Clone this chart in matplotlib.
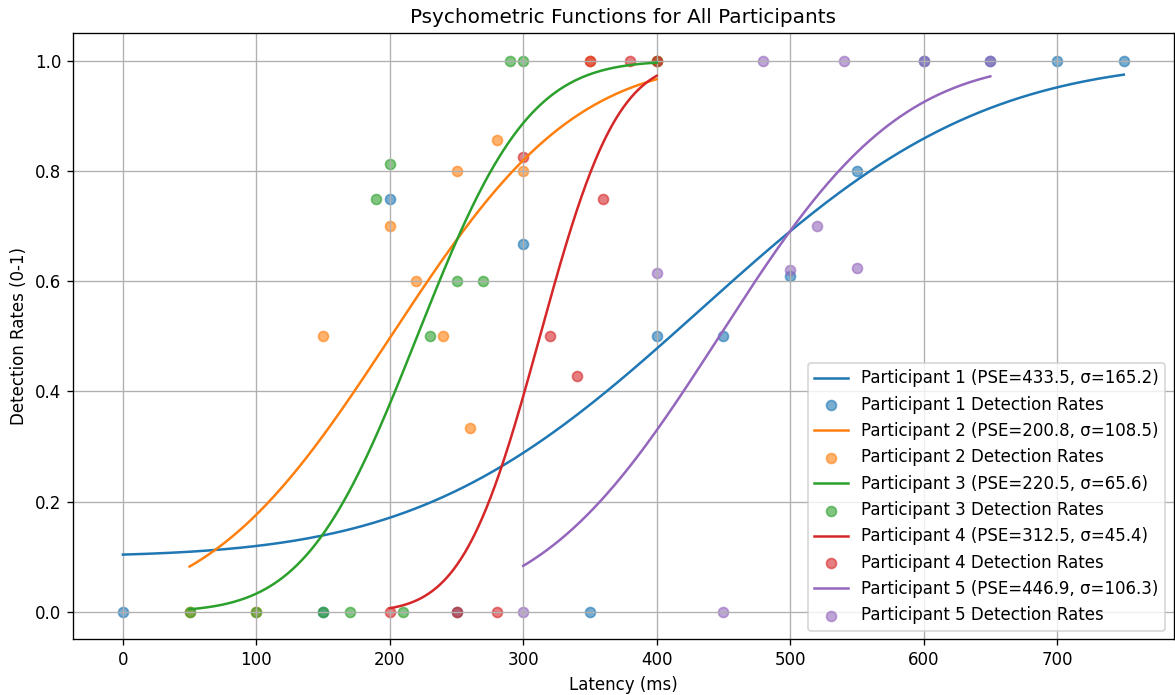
import math
import numpy as np
import matplotlib
matplotlib.use('Agg')
import matplotlib.pyplot as plt

# fitted parameters (from legend)
pse = [433.5, 200.8, 220.5, 312.5, 446.9]
sigma = [165.2, 108.5, 65.6, 45.4, 106.3]
guess = [0.1, 0.0, 0.0, 0.0, 0.0]

# observed detection rates per participant
lat1 = [0, 150, 200, 250, 300, 350, 400, 450, 500, 550, 600, 650, 700, 750]
det1 = [0.0, 0.0, 0.75, 0.0, 0.667, 0.0, 0.5, 0.5, 0.61, 0.8, 1.0, 1.0, 1.0, 1.0]
lat2 = [50, 100, 150, 200, 220, 240, 250, 260, 280, 300, 350, 400]
det2 = [0.0, 0.0, 0.5, 0.7, 0.6, 0.5, 0.8, 0.333, 0.857, 0.8, 1.0, 1.0]
lat3 = [50, 100, 150, 170, 190, 200, 210, 230, 250, 270, 290, 300, 400]
det3 = [0.0, 0.0, 0.0, 0.0, 0.75, 0.8125, 0.0, 0.5, 0.6, 0.6, 1.0, 1.0, 1.0]
lat4 = [200, 250, 280, 300, 320, 340, 350, 360, 380, 400]
det4 = [0.0, 0.0, 0.0, 0.825, 0.5, 0.4286, 1.0, 0.75, 1.0, 1.0]
lat5 = [300, 400, 450, 480, 500, 520, 540, 550, 600, 650]
det5 = [0.0, 0.615, 0.0, 1.0, 0.62, 0.7, 1.0, 0.625, 1.0, 1.0]

lats = [lat1, lat2, lat3, lat4, lat5]
dets = [det1, det2, det3, det4, det5]

ncdf = np.vectorize(lambda z: 0.5 * (1 + math.erf(z / math.sqrt(2))))

DPI = 120
fig, ax = plt.subplots(figsize=(1175 / DPI, 695 / DPI), dpi=DPI)
fig.subplots_adjust(left=0.062, right=0.999, top=0.952, bottom=0.08)

for i in range(5):
    color = f'C{i}'
    x = np.linspace(min(lats[i]), max(lats[i]), 300)
    y = guess[i] + (1 - guess[i]) * ncdf((x - pse[i]) / sigma[i])
    ax.plot(x, y, color=color,
            label=f'Participant {i+1} (PSE={pse[i]:.1f}, σ={sigma[i]:.1f})')
    ax.scatter(lats[i], dets[i], color=color, alpha=0.6,
               label=f'Participant {i+1} Detection Rates')

ax.set_xlabel('Latency (ms)')
ax.set_ylabel('Detection Rates (0-1)')
ax.set_title('Psychometric Functions for All Participants')
ax.legend(loc='lower right')
ax.grid(True)

fig.savefig('out.png', dpi=DPI)
